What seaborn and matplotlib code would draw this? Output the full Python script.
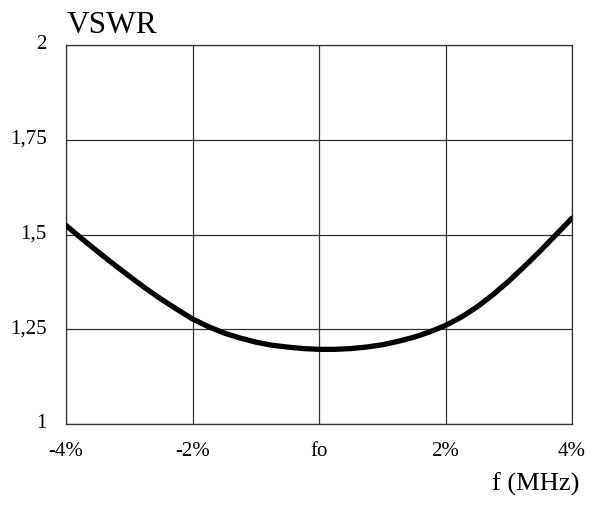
import matplotlib
matplotlib.use("Agg")
import matplotlib.pyplot as plt
import matplotlib.transforms as mtransforms
import seaborn as sns
import pandas as pd

# values (offset from fo in %, VSWR)
freq_offset = [-4.0, -3.75, -3.5, -3.25, -3.0, -2.75, -2.5, -2.25, -2.0,
               -1.75, -1.5, -1.25, -1.0, -0.75, -0.5, -0.25, 0.0,
               0.25, 0.5, 0.75, 1.0, 1.25, 1.5, 1.75, 2.0,
               2.25, 2.5, 2.75, 3.0, 3.25, 3.5, 3.75, 4.0]
vswr = [1.524, 1.489, 1.455, 1.422, 1.390, 1.359, 1.330, 1.303, 1.277,
        1.257, 1.240, 1.227, 1.216, 1.208, 1.203, 1.199, 1.197,
        1.197, 1.199, 1.203, 1.209, 1.218, 1.229, 1.243, 1.260,
        1.282, 1.309, 1.341, 1.377, 1.416, 1.457, 1.500, 1.543]

x_ticks = [-4, -2, 0, 2, 4]
x_labels = ["-4%", "-2%", "fo", "2%", "4%"]
y_ticks = [1, 1.25, 1.5, 1.75, 2]
y_labels = ["1", "1,25", "1,5", "1,75", "2"]

df = pd.DataFrame({"offset": freq_offset, "vswr": vswr})

sns.set_style("white")
plt.rcParams["font.family"] = ["Liberation Serif", "DejaVu Serif"]
plt.rcParams["text.color"] = "black"
plt.rcParams["xtick.color"] = "black"
plt.rcParams["ytick.color"] = "black"

fig = plt.figure(figsize=(5.9, 5.06), dpi=100)
ax = fig.add_axes([66 / 590, 81 / 506, 506 / 590, 379 / 506])

sns.lineplot(data=df, x="offset", y="vswr", ax=ax, color="black",
             linewidth=3.8, zorder=3)
ax.lines[0].set_solid_joinstyle("round")

ax.set_xlim(-4, 4)
ax.set_ylim(1, 2)
ax.set_xticks(x_ticks)
ax.set_xticklabels(x_labels)
ax.set_yticks(y_ticks)
ax.set_yticklabels(y_labels)
ax.tick_params(axis="both", labelsize=15, length=0, labelcolor="black")
ax.tick_params(axis="x", pad=12)
ax.tick_params(axis="y", pad=14)
ax.set_xlabel("")
ax.set_ylabel("")
ax.grid(True, color="#333333", linewidth=0.9)
for s in ax.spines.values():
    s.set_color("#333333")
    s.set_linewidth(0.9)

# y labels sit a little above their grid lines in the reference
shift = mtransforms.ScaledTranslation(0, 4 / 100, fig.dpi_scale_trans)
for lbl in ax.get_yticklabels():
    lbl.set_transform(lbl.get_transform() + shift)

fig.text(67 / 590, 1 - 33 / 506, "VSWR", fontsize=22.5, ha="left",
         va="baseline")
fig.text(579 / 590, 1 - 491 / 506, "f (MHz)", fontsize=19, ha="right",
         va="baseline")

fig.savefig("out.png", dpi=100)
